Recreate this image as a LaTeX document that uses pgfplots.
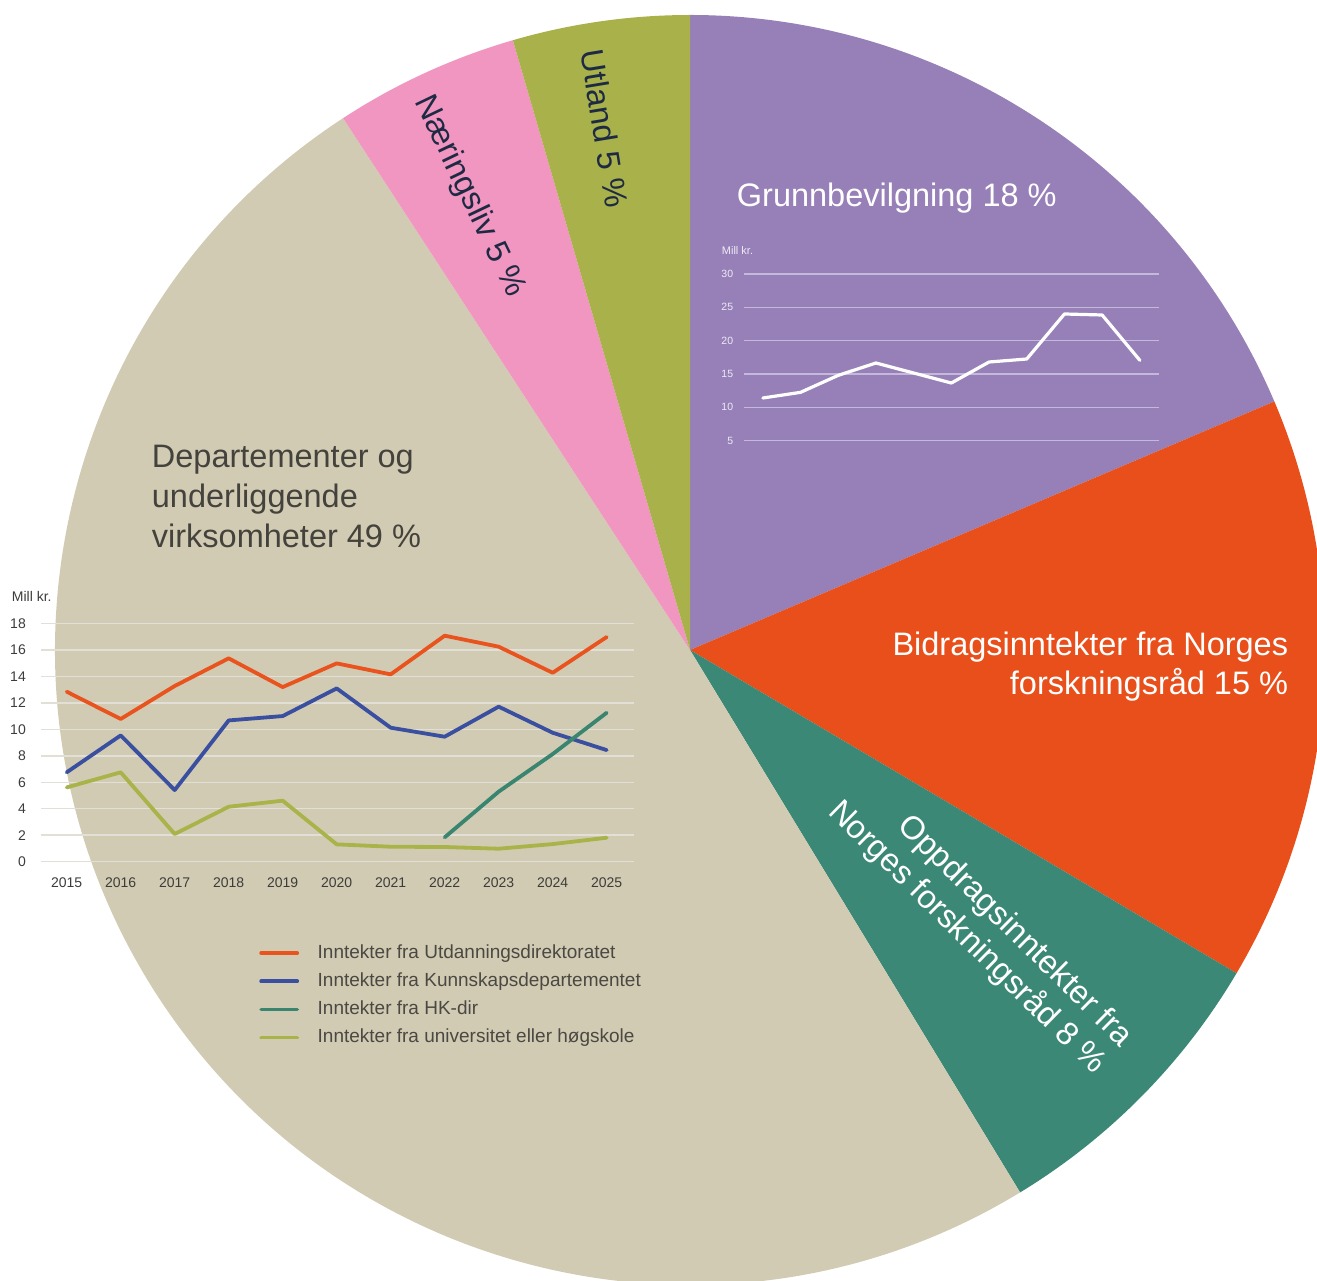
\documentclass[border=0pt]{standalone}
\usepackage{fontspec}
\setmainfont{Liberation Sans}
\usepackage{pgfplots}
\pgfplotsset{compat=1.18}

\definecolor{cPurple}{RGB}{151,128,184}
\definecolor{cOrange}{RGB}{232,79,26}
\definecolor{cTeal}{RGB}{60,136,118}
\definecolor{cBeige}{RGB}{210,203,179}
\definecolor{cPink}{RGB}{240,150,192}
\definecolor{cOlive}{RGB}{169,178,74}
\definecolor{lOrange}{RGB}{233,83,30}
\definecolor{lBlue}{RGB}{58,79,160}
\definecolor{lTeal}{RGB}{58,133,112}
\definecolor{lOlive}{RGB}{168,179,73}
\definecolor{gridP}{RGB}{196,185,219}
\definecolor{tickP}{RGB}{238,234,246}
\definecolor{gridB}{RGB}{226,223,214}
\definecolor{tickB}{RGB}{60,60,58}
\definecolor{navy}{RGB}{30,42,68}
\definecolor{darkT}{RGB}{68,66,60}
\definecolor{legT}{RGB}{74,72,66}

% pie shares (percent), clockwise from 12 o'clock
\def\pGrunn{18.6}
\def\pBidrag{14.9}
\def\pOppdrag{7.8}
\def\pDep{49.5}
\def\pNaer{4.7}
\def\pUtl{4.5}
\pgfmathsetmacro\aA{90}
\pgfmathsetmacro\aB{\aA-3.6*\pGrunn}
\pgfmathsetmacro\aC{\aB-3.6*\pBidrag}
\pgfmathsetmacro\aD{\aC-3.6*\pOppdrag}
\pgfmathsetmacro\aE{\aD-3.6*\pDep}
\pgfmathsetmacro\aF{\aE-3.6*\pNaer}
\pgfmathsetmacro\aG{\aF-3.6*\pUtl}
\def\R{635}

\newcommand{\bigf}{\fontsize{32.5}{39}\selectfont}

\begin{document}
\begin{tikzpicture}[x=1pt,y=1pt]
\useasboundingbox (0,0) rectangle (1317,1281);

% ---------- pie ----------
\begin{axis}[at={(0pt,0pt)}, anchor=south west, x=1pt, y=1pt,
  xmin=-690, xmax=627, ymin=-631, ymax=650, hide axis, clip=true]
\addplot[draw=none] coordinates {(0,0)};
\fill[cPurple] (axis cs:0,0) -- (axis cs:{\R*cos(\aA)},{\R*sin(\aA)}) arc[start angle=\aA, end angle=\aB, radius=\R pt] -- cycle;
\fill[cOrange] (axis cs:0,0) -- (axis cs:{\R*cos(\aB)},{\R*sin(\aB)}) arc[start angle=\aB, end angle=\aC, radius=\R pt] -- cycle;
\fill[cTeal] (axis cs:0,0) -- (axis cs:{\R*cos(\aC)},{\R*sin(\aC)}) arc[start angle=\aC, end angle=\aD, radius=\R pt] -- cycle;
\fill[cBeige] (axis cs:0,0) -- (axis cs:{\R*cos(\aD)},{\R*sin(\aD)}) arc[start angle=\aD, end angle=\aE, radius=\R pt] -- cycle;
\fill[cPink] (axis cs:0,0) -- (axis cs:{\R*cos(\aE)},{\R*sin(\aE)}) arc[start angle=\aE, end angle=\aF, radius=\R pt] -- cycle;
\fill[cOlive] (axis cs:0,0) -- (axis cs:{\R*cos(\aF)},{\R*sin(\aF)}) arc[start angle=\aF, end angle=\aG, radius=\R pt] -- cycle;
\end{axis}

% ---------- small chart in purple slice ----------
\begin{axis}[at={(744pt,840.3pt)}, anchor=south west, scale only axis,
  width=414.7pt, height=166.7pt,
  xmin=2014.5, xmax=2025.5, ymin=5, ymax=30,
  ytick={5,10,...,30}, xtick=\empty,
  axis line style={draw=none}, major tick length=0pt,
  ymajorgrids, grid style={color=gridP, line width=1.2pt},
  yticklabel style={font=\fontsize{10.5}{10.5}\selectfont, text=tickP, anchor=east, inner sep=0pt, xshift=-10.7pt},
  /pgf/number format/assume math mode=true, clip=false]
\addplot[white, line width=3.2pt, line join=round, line cap=round] coordinates {
 (2015,11.4) (2016,12.25) (2017,14.8) (2018,16.65) (2019,15.15) (2020,13.65)
 (2021,16.8) (2022,17.25) (2023,24.0) (2024,23.85) (2025,17.05)};
\end{axis}

% ---------- chart in beige slice ----------
\begin{axis}[at={(41pt,419.3pt)}, anchor=south west, scale only axis,
  width=593pt, height=238.3pt,
  xmin=2014.524, xmax=2025.506, ymin=0, ymax=18,
  ytick={0,2,...,18}, xtick={2015,2016,...,2025},
  axis line style={draw=none}, major tick length=0pt,
  ymajorgrids, grid style={color=gridB, line width=1.5pt},
  yticklabel style={font=\fontsize{14}{14}\selectfont, text=tickB, anchor=east, inner sep=0pt, xshift=-15pt},
  xticklabel style={font=\fontsize{14}{14}\selectfont, text=tickB, anchor=north, inner sep=0pt, yshift=-15.5pt},
  /pgf/number format/assume math mode=true,
  /pgf/number format/1000 sep={},
  clip=false,
  legend style={at={(0.3681,-0.3466)}, anchor=north west, draw=none, fill=none,
    inner sep=0pt, outer sep=0pt, row sep=10.1pt,
    font=\fontsize{19}{19}\selectfont, text=legT,
    nodes={inner sep=0pt, text height=14pt, text depth=4pt, anchor=base west},
    /tikz/every odd column/.append style={column sep=18.6pt}},
  legend cell align=left,
  legend image code/.code={\draw[#1] (0pt,5pt) -- (36pt,5pt);}]
\addplot[lOrange, line width=3.8pt, line join=round, line cap=round] coordinates {
 (2015,12.84) (2016,10.78) (2017,13.27) (2018,15.36) (2019,13.19) (2020,14.98)
 (2021,14.15) (2022,17.07) (2023,16.24) (2024,14.27) (2025,16.97)};
\addlegendentry{Inntekter fra Utdanningsdirektoratet}
\addplot[lBlue, line width=3.8pt, line join=round, line cap=round] coordinates {
 (2015,6.75) (2016,9.54) (2017,5.41) (2018,10.67) (2019,11.0) (2020,13.09)
 (2021,10.12) (2022,9.44) (2023,11.71) (2024,9.74) (2025,8.43)};
\addlegendentry{Inntekter fra Kunnskapsdepartementet}
\addplot[lTeal, line width=3.8pt, line join=round, line cap=round] coordinates {
 (2022,1.84) (2023,5.29) (2024,8.13) (2025,11.25)};
\addlegendentry{Inntekter fra HK-dir}
\addplot[lOlive, line width=3.8pt, line join=round, line cap=round] coordinates {
 (2015,5.61) (2016,6.75) (2017,2.09) (2018,4.15) (2019,4.61) (2020,1.31)
 (2021,1.13) (2022,1.11) (2023,0.98) (2024,1.33) (2025,1.81)};
\addlegendentry{Inntekter fra universitet eller høgskole}
\end{axis}

% ---------- labels ----------
\node[anchor=base west, inner sep=0pt, text=tickP, font=\fontsize{11}{11}\selectfont] at (721.7,1026) {Mill kr.};
\node[anchor=base west, inner sep=0pt, text=tickB, font=\fontsize{14}{14}\selectfont] at (11.7,679.3) {Mill kr.};

\node[anchor=base west, inner sep=0pt, text=white, font=\bigf] at (736.7,1074.3) {Grunnbevilgning 18 \%};

\node[anchor=base east, inner sep=0pt, text=white, font=\bigf] at (1288.3,625) {Bidragsinntekter fra Norges};
\node[anchor=base east, inner sep=0pt, text=white, font=\bigf] at (1288.3,586) {forskningsråd 15 \%};

\node[anchor=base east, inner sep=0pt, text=white, font=\bigf, rotate=-44.5] at (1121,233) {Oppdragsinntekter fra};
\node[anchor=base east, inner sep=0pt, text=white, font=\bigf, rotate=-44.5] at (1094,205.7) {Norges forskningsråd 8 \%};

\node[anchor=base west, inner sep=0pt, text=navy, font=\bigf, rotate=-64.4] at (414.4,1179.6) {Næringsliv 5 \%};
\node[anchor=base west, inner sep=0pt, text=navy, font=\bigf, rotate=-80.7] at (580.3,1229.4) {Utland 5 \%};

\node[anchor=base west, inner sep=0pt, text=darkT, font=\bigf] at (151.7,813.7) {Departementer og};
\node[anchor=base west, inner sep=0pt, text=darkT, font=\bigf] at (151.7,773.7) {underliggende};
\node[anchor=base west, inner sep=0pt, text=darkT, font=\bigf] at (151.7,733.7) {virksomheter 49 \%};
\end{tikzpicture}
\end{document}
